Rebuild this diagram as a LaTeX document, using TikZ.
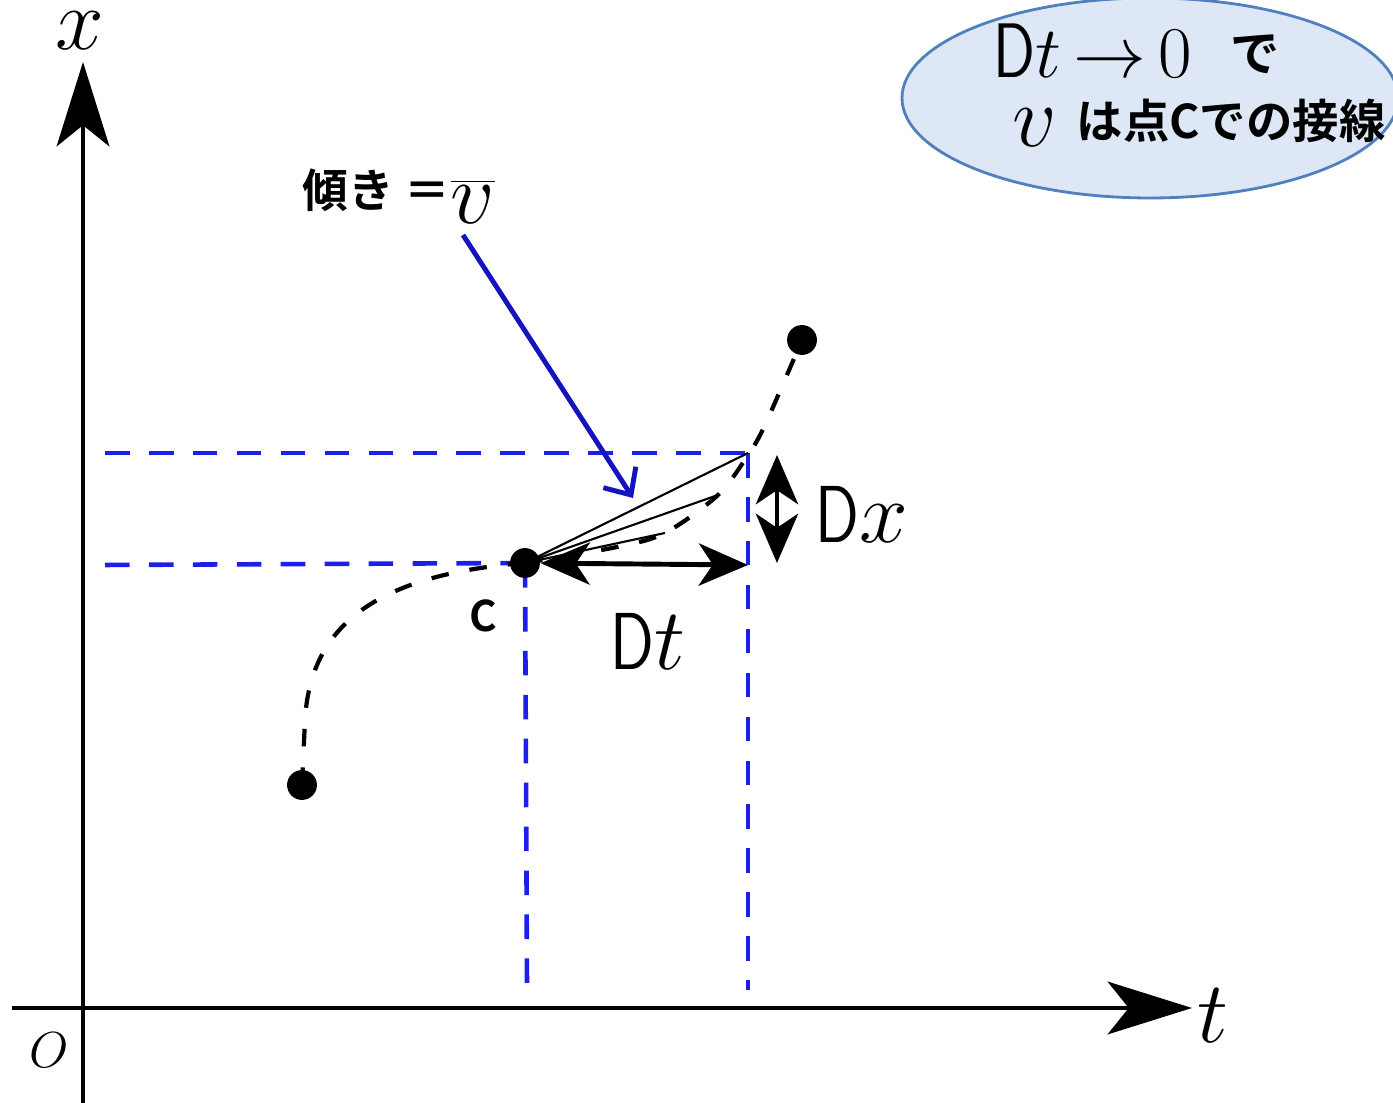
\documentclass[tikz,border=0pt]{standalone}
\usepackage{fontspec}
\newfontfamily\cjk{Noto Sans CJK JP}[BoldFont={Noto Sans CJK JP Bold}]
\usetikzlibrary{arrows.meta}
\definecolor{hilfsblau}{RGB}{30,30,235}
\definecolor{pfeilblau}{RGB}{20,20,190}
\definecolor{blasenrand}{RGB}{80,128,190}
\definecolor{blasenfill}{RGB}{222,231,245}
\newcommand{\Dsym}{\scalebox{0.8}[1]{\textsf{D}}}
\tikzset{
    punkt/.style={circle, fill, inner sep=0pt, minimum size=8.5pt},
    hilfslinie/.style={hilfsblau, line width=1.3pt, dash pattern=on 7pt off 5.5pt},
    kurve/.style={line width=1.2pt, dash pattern=on 5pt off 6pt},
    sekante/.style={line width=0.6pt},
    achse/.style={line width=1.2pt, -{Stealth[length=24pt,width=15pt,inset=6pt]}},
    doppelpfeil/.style={line width=1.4pt, {Stealth[length=14pt,width=12pt,inset=4pt]}-{Stealth[length=14pt,width=12pt,inset=4pt]}},
    beschriftung/.style={inner sep=0pt, anchor=base west},
    gross/.style={beschriftung, font=\fontsize{23}{27}\selectfont},
    fett/.style={beschriftung, font=\fontsize{13.2}{16}\selectfont\cjk\bfseries}
}

\begin{document}
\begin{tikzpicture}[x=0.1mm,y=-0.1mm]
\useasboundingbox (0,0) rectangle (1393,1103);

% Blase
\draw[blasenrand, fill=blasenfill, line width=0.8pt] (1150,98) ellipse [x radius=248, y radius=100];
\node[gross, font=\fontsize{22}{26}\selectfont] (grenz) at (993,78) {$\Dsym t\,{\to}\,0$};
\node[fett, font=\fontsize{14}{17}\selectfont\cjk\bfseries] (de) at (1230,72) {で};
\node[gross, font=\fontsize{25}{30}\selectfont] (vtan) at (1012,147) {$v$};
\node[fett] (tangente) at (1076,139) {は点Cでの接線};

% Achsen
\coordinate (xfuss) at (83,1103);
\coordinate (xspitze) at (83,62);
\coordinate (tfuss) at (12,1008);
\coordinate (tspitze) at (1192,1008);
\draw[achse] (xfuss) -- (xspitze);
\draw[achse] (tfuss) -- (tspitze);
\node[inner sep=0pt, font=\fontsize{25}{30}\selectfont] (xlab) at (80,31) {$x$};
\node[inner sep=0pt, font=\fontsize{23}{27}\selectfont] (tlab) at (1213,1016) {$t$};
\node[beschriftung, font=\fontsize{14}{17}\selectfont] (olab) at (29,1068) {$O$};

% Punkte auf der Kurve
\coordinate (cpos) at (525,563);
\coordinate (k1) at (665,533);
\coordinate (k2) at (718,495);
\coordinate (k3) at (748,453);

% Hilfslinien
\coordinate (h1) at (105,453);
\coordinate (h2) at (105,565);
\coordinate (v1) at (527,985);
\coordinate (v2) at (748,990);
\draw[hilfslinie] (h1) -- (k3);
\draw[hilfslinie] (h2) -- (cpos);
\draw[hilfslinie] (cpos) -- (v1);
\draw[hilfslinie] (k3) -- (v2);

% Kurve
\draw[kurve] (302,785) -- (305,720) .. controls (310,630) and (370,575) .. (cpos);
\draw[kurve] plot[smooth] coordinates {(525,563) (617,547) (665,533) (718,495) (748,455) (765,425) (802,340)};

% Punkte
\node[punkt] (anfang) at (302,785) {};
\node[punkt] (C) at (cpos) {};
\node[punkt] (ende) at (802,340) {};
\node[fett, font=\fontsize{12}{14}\selectfont\cjk\bfseries] (clab) at (469,632) {C};

% Sekanten
\draw[sekante] (C.center) -- (k3);
\draw[sekante] (C.center) -- (k2);
\draw[sekante] (C.center) -- (k1);

% Dt und Dx
\coordinate (dtende) at (748,565);
\coordinate (dxoben) at (777,455);
\coordinate (dxunten) at (777,563);
\draw[doppelpfeil] (C) -- (dtende);
\draw[doppelpfeil] (dxoben) -- (dxunten);
\node[gross] (dtlab) at (610,670) {$\Dsym t$};
\node[gross] (dxlab) at (815,543) {$\Dsym x$};

% Steigung
\node[fett, font=\fontsize{13}{16}\selectfont\cjk\bfseries] (steigung) at (302,208) {傾き ＝};
\node[gross, font=\fontsize{24}{28}\selectfont] (vquer) at (450,224) {$\overline{v}$};
\coordinate (pfeilanfang) at (463,235);
\coordinate (pfeilspitze) at (633,498);
\draw[pfeilblau, line width=1.4pt, -{Straight Barb[length=6pt,width=11pt]}] (pfeilanfang) -- (pfeilspitze);
\end{tikzpicture}
\end{document}
